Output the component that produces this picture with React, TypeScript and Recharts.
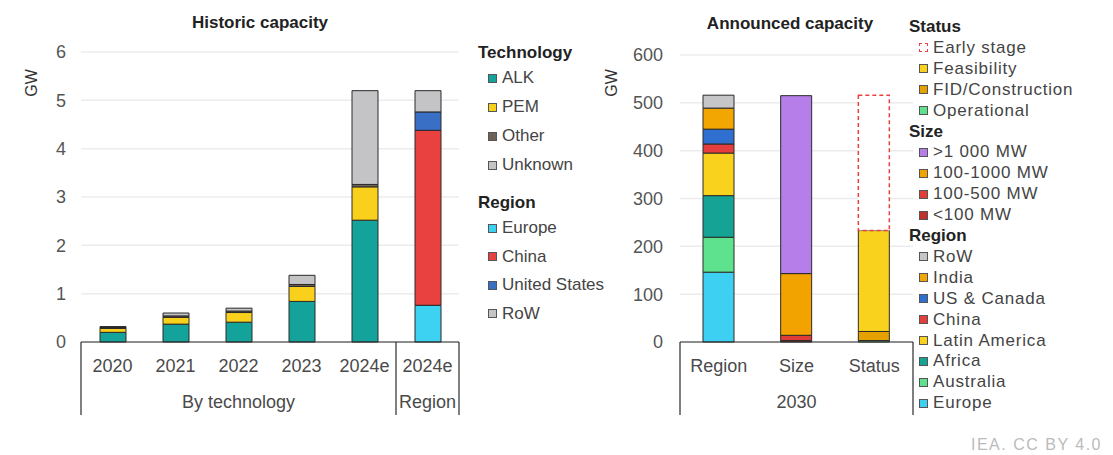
import { BarChart, Bar, XAxis, YAxis, CartesianGrid } from "recharts"

// historic capacity, GW, by technology
const techYears = ["2020", "2021", "2022", "2023", "2024e"]
const alk = [0.2, 0.37, 0.41, 0.84, 2.52]
const pem = [0.08, 0.14, 0.2, 0.31, 0.69]
const other = [0.02, 0.03, 0.03, 0.04, 0.05]
const unknown = [0.02, 0.06, 0.06, 0.19, 1.94]

// historic capacity 2024e by region
const histRegionYear = "2024e"
const histRegionNames = ["Europe", "China", "United States", "RoW"]
const histRegionValues = [0.76, 3.62, 0.38, 0.44]

// announced capacity 2030, GW
const announcedCats = ["Region", "Size", "Status"]
const regionNames = ["Europe", "Australia", "Africa", "Latin America", "China", "US & Canada", "India", "RoW"]
const regionValues = [146, 73, 87, 89, 19, 31, 44, 27]
const sizeNames = ["<100 MW", "100-500 MW", "100-1000 MW", ">1 000 MW"]
const sizeValues = [3, 11, 129, 372]
const statusNames = ["Operational", "FID/Construction", "Feasibility", "Early stage"]
const statusValues = [3, 19, 211, 283]

const histTicks = [0, 1, 2, 3, 4, 5, 6]
const annTicks = [0, 100, 200, 300, 400, 500, 600]

const techColors: Record<string, string> = {
  ALK: "#14a39a",
  PEM: "#f9d11c",
  Other: "#6e6257",
  Unknown: "#c4c4c7",
}
const histRegionColors: Record<string, string> = {
  Europe: "#3dd2f2",
  China: "#e8413f",
  "United States": "#3a6fc6",
  RoW: "#c4c4c7",
}
const regionColors: Record<string, string> = {
  Europe: "#3ed0f2",
  Australia: "#5fe28e",
  Africa: "#15a396",
  "Latin America": "#f8d21c",
  China: "#e63e3e",
  "US & Canada": "#2f6fd0",
  India: "#f2a602",
  RoW: "#c6c6c8",
}
const sizeColors: Record<string, string> = {
  "<100 MW": "#c0302c",
  "100-500 MW": "#e03c38",
  "100-1000 MW": "#f2a300",
  ">1 000 MW": "#b57ee8",
}
const statusColors: Record<string, string> = {
  Operational: "#5fe28e",
  "FID/Construction": "#e5a100",
  Feasibility: "#f8d21c",
  "Early stage": "#ffffff",
}

const FONT = "'Liberation Sans', Arial, sans-serif"
const EDGE = "#2a2a2a"

const techKeys = ["ALK", "PEM", "Other", "Unknown"]
const techSeries = [alk, pem, other, unknown]

const histData = [
  ...techYears.map((yr, i) => {
    const row: Record<string, any> = { id: yr, label: yr }
    techKeys.forEach((k, j) => (row[k] = techSeries[j][i]))
    histRegionNames.forEach((k) => (row["reg_" + k] = 0))
    return row
  }),
  (() => {
    const row: Record<string, any> = { id: histRegionYear + "-r", label: histRegionYear }
    techKeys.forEach((k) => (row[k] = 0))
    histRegionNames.forEach((k, j) => (row["reg_" + k] = histRegionValues[j]))
    return row
  })(),
]

const annGroups = [
  { names: regionNames, values: regionValues, prefix: "r_" },
  { names: sizeNames, values: sizeValues, prefix: "s_" },
  { names: statusNames, values: statusValues, prefix: "t_" },
]
const annData = announcedCats.map((cat, i) => {
  const row: Record<string, any> = { id: cat, label: cat }
  annGroups.forEach((g, j) => g.names.forEach((n, k) => (row[g.prefix + n] = i === j ? g.values[k] : 0)))
  return row
})

// left chart geometry
const L_W = 470
const L_PLOT_LEFT = 81
const L_RIGHT = 11
const L_BAND = (L_W - L_PLOT_LEFT - L_RIGHT) / histData.length

// right chart geometry
const R_X = 580
const R_W = 340
const R_PLOT_LEFT = 100
const R_RIGHT = 7
const R_BAND = (R_W - R_PLOT_LEFT - R_RIGHT) / annData.length

function makeTick(labels: string[], band: number, groups: { at: number; text: string }[], leftEdges: number[], rightEdges: number[]) {
  return (props: any) => {
    const { x, y, index } = props
    const g = groups.find((gg) => gg.at === index)
    return (
      <g>
        <text x={x} y={y + 25} textAnchor="middle" dominantBaseline="middle" fill="#4a4a4a" fontSize={18} fontFamily={FONT}>
          {labels[index]}
        </text>
        {g && (
          <text x={x} y={y + 61} textAnchor="middle" dominantBaseline="middle" fill="#4a4a4a" fontSize={18} fontFamily={FONT}>
            {g.text}
          </text>
        )}
        {leftEdges.includes(index) && <line x1={x - band / 2} x2={x - band / 2} y1={y} y2={y + 73} stroke={EDGE} strokeWidth={1.2} />}
        {rightEdges.includes(index) && <line x1={x + band / 2} x2={x + band / 2} y1={y} y2={y + 73} stroke={EDGE} strokeWidth={1.2} />}
      </g>
    )
  }
}

type LegendItem = { label: string; color: string; dashed?: boolean; title?: boolean }

function Legend({ x, gap, spacing, items }: { x: number; gap: number; spacing: number; items: { item: LegendItem; y: number }[] }) {
  return (
    <>
      {items.map(({ item, y: yy }, i) =>
        item.title ? (
          <div
            key={i}
            style={{ position: "absolute", left: x - 10, top: yy - 11, fontWeight: "bold", fontSize: 17, color: "#222", fontFamily: FONT, lineHeight: "22px", whiteSpace: "nowrap" }}
          >
            {item.label}
          </div>
        ) : (
          <div key={i} style={{ position: "absolute", left: x, top: yy - 11, height: 22, display: "flex", alignItems: "center", whiteSpace: "nowrap" }}>
            <span
              style={{
                width: 7,
                height: 7,
                background: item.color,
                border: item.dashed ? "1px dashed #e8413f" : "1px solid #555",
                marginRight: gap,
                display: "inline-block",
              }}
            />
            <span style={{ fontSize: 17, color: "#444", fontFamily: FONT, letterSpacing: spacing }}>{item.label}</span>
          </div>
        )
      )}
    </>
  )
}

const leftLegend: { item: LegendItem; y: number }[] = [
  { item: { label: "Technology", color: "", title: true }, y: 53 },
  ...techKeys.map((k, i) => ({ item: { label: k, color: techColors[k] }, y: 78 + i * 29 })),
  { item: { label: "Region", color: "", title: true }, y: 203 },
  ...histRegionNames.map((k, i) => ({ item: { label: k, color: histRegionColors[k] }, y: 228 + i * 28.5 })),
]

const rightLegendSeq: LegendItem[] = [
  { label: "Status", color: "", title: true },
  ...[...statusNames].reverse().map((n) => ({ label: n, color: statusColors[n], dashed: n === "Early stage" })),
  { label: "Size", color: "", title: true },
  ...[...sizeNames].reverse().map((n) => ({ label: n, color: sizeColors[n] })),
  { label: "Region", color: "", title: true },
  ...[...regionNames].reverse().map((n) => ({ label: n, color: regionColors[n] })),
]
const rightLegend = rightLegendSeq.map((item, i) => ({ item, y: 27 + i * 20.9 }))

const axisTickStyle = { fill: "#555", fontSize: 18, fontFamily: FONT }

export default function App() {
  return (
    <div style={{ position: "absolute", left: 0, top: 0, width: 1113, height: 455, background: "#fff", overflow: "hidden", fontFamily: FONT }}>
      <div style={{ position: "absolute", left: 150, width: 220, top: 13, textAlign: "center", fontWeight: "bold", fontSize: 17, color: "#222" }}>
        Historic capacity
      </div>
      <div style={{ position: "absolute", left: 680, width: 220, top: 14, textAlign: "center", fontWeight: "bold", fontSize: 17, color: "#222" }}>
        Announced capacity
      </div>
      <div style={{ position: "absolute", left: 32, top: 83, transform: "translate(-50%, -50%) rotate(-90deg)", fontSize: 16, color: "#333" }}>GW</div>
      <div style={{ position: "absolute", left: 612, top: 83, transform: "translate(-50%, -50%) rotate(-90deg)", fontSize: 16, color: "#333" }}>GW</div>

      <div style={{ position: "absolute", left: 0, top: 0 }}>
        <BarChart width={L_W} height={455} data={histData} margin={{ top: 52, right: L_RIGHT, bottom: 0, left: 0 }} barSize={26}>
          <CartesianGrid vertical={false} stroke="#ececec" strokeWidth={1.5} />
          <XAxis
            dataKey="id"
            height={113}
            interval={0}
            tickSize={0}
            tickMargin={0}
            axisLine={{ stroke: EDGE, strokeWidth: 1.2 }}
            tickLine={false}
            tick={makeTick(histData.map((d) => d.label), L_BAND, [{ at: 2, text: "By technology" }, { at: 5, text: "Region" }], [0], [4, 5])}
          />
          <YAxis width={L_PLOT_LEFT} domain={[0, 6]} ticks={histTicks} axisLine={false} tickLine={false} tickSize={0} tickMargin={15} tick={axisTickStyle} />
          {techKeys.map((k) => (
            <Bar key={k} dataKey={k} stackId="a" fill={techColors[k]} stroke={EDGE} strokeWidth={1} isAnimationActive={false} />
          ))}
          {histRegionNames.map((k) => (
            <Bar key={k} dataKey={"reg_" + k} stackId="a" fill={histRegionColors[k]} stroke={EDGE} strokeWidth={1} isAnimationActive={false} />
          ))}
        </BarChart>
      </div>

      <div style={{ position: "absolute", left: R_X, top: 0 }}>
        <BarChart width={R_W} height={455} data={annData} margin={{ top: 55, right: R_RIGHT, bottom: 0, left: 0 }} barSize={31}>
          <CartesianGrid vertical={false} stroke="#ececec" strokeWidth={1.5} />
          <XAxis
            dataKey="id"
            height={113}
            interval={0}
            tickSize={0}
            tickMargin={0}
            axisLine={{ stroke: EDGE, strokeWidth: 1.2 }}
            tickLine={false}
            tick={makeTick(annData.map((d) => d.label), R_BAND, [{ at: 1, text: "2030" }], [0], [2])}
          />
          <YAxis width={R_PLOT_LEFT} domain={[0, 600]} ticks={annTicks} axisLine={false} tickLine={false} tickSize={0} tickMargin={17} tick={axisTickStyle} />
          {annGroups.map((g) =>
            g.names.map((n) => {
              const isEarly = n === "Early stage"
              const color = g.prefix === "r_" ? regionColors[n] : g.prefix === "s_" ? sizeColors[n] : statusColors[n]
              return (
                <Bar
                  key={g.prefix + n}
                  dataKey={g.prefix + n}
                  stackId="a"
                  fill={color}
                  stroke={isEarly ? "#e8413f" : EDGE}
                  strokeWidth={isEarly ? 1.5 : 1}
                  strokeDasharray={isEarly ? "4 3" : undefined}
                  isAnimationActive={false}
                />
              )
            })
          )}
        </BarChart>
      </div>

      <Legend x={488} gap={5} spacing={0} items={leftLegend} />
      <Legend x={919} gap={5} spacing={0.8} items={rightLegend} />

      <div style={{ position: "absolute", left: 971, top: 436, fontSize: 16, letterSpacing: 1.5, color: "#bbb", whiteSpace: "nowrap" }}>IEA. CC BY 4.0</div>
    </div>
  )
}
